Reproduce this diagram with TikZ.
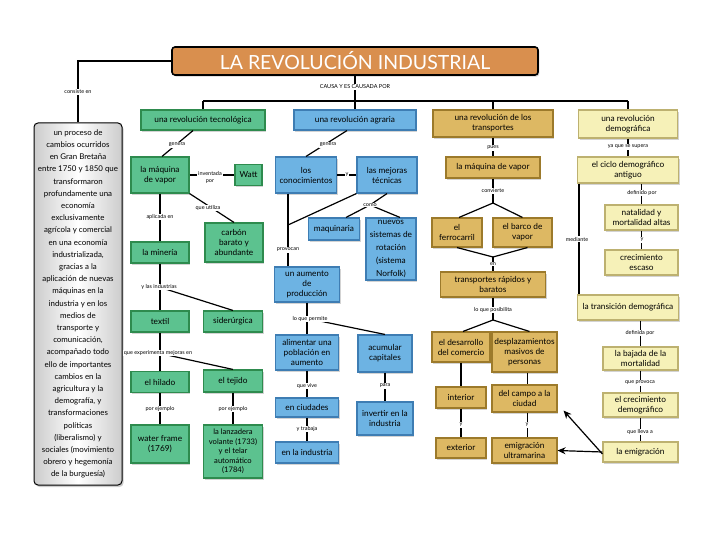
\documentclass[tikz,border=0pt]{standalone}
\usepackage{fontspec}
\setmainfont{Lato}
\usetikzlibrary{shadows,arrows.meta}
\definecolor{titlefill}{HTML}{D98F4E}
\definecolor{gfill}{HTML}{5CC28F}
\definecolor{gdraw}{HTML}{2E8B4E}
\definecolor{bfill}{HTML}{6DB3E3}
\definecolor{bdraw}{HTML}{3E7DB3}
\definecolor{ofill}{HTML}{DDB863}
\definecolor{odraw}{HTML}{9C7A2B}
\definecolor{yfill}{HTML}{F6F1B8}
\definecolor{ydraw}{HTML}{BDB170}
\begin{document}
\begin{tikzpicture}[x=1pt,y=-1pt,
  sz/.style 2 args={minimum width=#1pt, minimum height=#2pt},
  box/.style={draw, line width=1.1pt, align=center, inner sep=0.5pt,
    font=\fontsize{8.3}{10}\selectfont,
    drop shadow={shadow xshift=1.3pt, shadow yshift=-1.6pt, opacity=0.35}},
  gbox/.style={box, fill=gfill, draw=gdraw},
  bbox/.style={box, fill=bfill, draw=bdraw},
  obox/.style={box, fill=ofill, draw=odraw},
  ybox/.style={box, fill=yfill, draw=ydraw},
  titlebox/.style={draw=black, line width=1.6pt, fill=titlefill, rounded corners=3pt,
    text=white, font=\fontsize{19.5}{19.5}\selectfont,
    drop shadow={shadow xshift=1.3pt, shadow yshift=-1.6pt, opacity=0.35}},
  graybox/.style={draw=black, line width=1pt, rounded corners=4pt, align=center,
    left color=gray!40, right color=gray!40, middle color=white,
    font=\fontsize{7.9}{12.2}\selectfont, inner sep=0pt,
    drop shadow={shadow xshift=1.5pt, shadow yshift=-2pt, opacity=0.4}},
  lab/.style={fill=white, inner sep=0.8pt, align=center, font=\fontsize{5.5}{6}\selectfont},
  conn/.style={line width=1.2pt, black},
  arr/.style={conn, -{Stealth[length=8pt,width=7pt]}}
]
\useasboundingbox (0,0) rectangle (720,540);

% ---------- title and root
\node[titlebox, sz={366}{28}] (title) at (355,61) {LA REVOLUCIÓN INDUSTRIAL};
\node[graybox, sz={88}{362}] (proc) at (78,304) {un proceso de\\cambios ocurridos\\en Gran Bretaña\\entre 1750 y 1850 que\\transformaron\\profundamente una\\economía\\exclusivamente\\agrícola y comercial\\en una economía\\industrializada,\\gracias a la\\aplicación de nuevas\\máquinas en la\\industria y en los\\medios de\\transporte y\\comunicación,\\acompañado todo\\ello de importantes\\cambios en la\\agricultura y la\\demografía, y\\transformaciones\\políticas\\(liberalismo) y\\sociales (movimiento\\obrero y hegemonía\\de la burguesía)};

% ---------- green column
\node[gbox, sz={124}{20}] (tec) at (203,120) {una revolución tecnológica};
\node[gbox, sz={58}{36}] (maq) at (160,175) {la máquina\\de vapor};
\node[gbox, sz={27}{21}] (watt) at (248.5,175) {Watt};
\node[gbox, sz={58}{39}] (carbon) at (234,242.5) {carbón\\barato y\\abundante};
\node[gbox, sz={58}{21}] (mineria) at (160,252.5) {la minería};
\node[gbox, sz={58}{21}] (textil) at (160,321.5) {textil};
\node[gbox, sz={59}{21}] (sider) at (233,321.5) {siderúrgica};
\node[gbox, sz={58}{21}] (hilado) at (160,382) {el hilado};
\node[gbox, sz={59}{22}] (tejido) at (233,381) {el tejido};
\node[gbox, sz={58}{38}] (water) at (160,444) {water frame\\(1769)};
\node[gbox, sz={59}{53}, font=\fontsize{7.6}{9.6}\selectfont] (lanz) at (233,451.5) {la lanzadera\\volante (1733)\\y el telar\\automático\\(1784)};

% ---------- blue column
\node[bbox, sz={122}{20}] (agr) at (355,120) {una revolución agraria};
\node[bbox, sz={61}{36}] (conoc) at (306,175) {los\\conocimientos};
\node[bbox, sz={60}{36}] (mejoras) at (387,175) {las mejoras\\técnicas};
\node[bbox, sz={51}{22}] (maqn) at (334,229) {maquinaria};
\node[bbox, sz={50}{62}, font=\fontsize{8.3}{13}\selectfont] (nuevos) at (391,249) {nuevos\\sistemas de\\rotación\\(sistema\\Norfolk)};
\node[bbox, sz={65}{35}] (aumento) at (307,284.5) {un aumento\\de\\producción};
\node[bbox, sz={63}{35}] (aliment) at (307,352.5) {alimentar una\\población en\\aumento};
\node[bbox, sz={54}{37}] (acum) at (385,353.5) {acumular\\capitales};
\node[bbox, sz={63}{19}] (ciudades) at (307,407.5) {en ciudades};
\node[bbox, sz={63}{21}] (industria) at (307,452.5) {en la industria};
\node[bbox, sz={56}{33}] (invertir) at (385,418.5) {invertir en la\\industria};

% ---------- gold column
\node[obox, sz={120}{27}] (trans) at (493,123.5) {una revolución de los\\transportes};
\node[obox, sz={94}{21}] (maqv) at (493,167.5) {la máquina de vapor};
\node[obox, sz={50}{29}] (ferro) at (457,232.5) {el\\ferrocarril};
\node[obox, sz={59}{29}] (barco) at (522.5,232.5) {el barco de\\vapor};
\node[obox, sz={105}{25}] (rapidos) at (493,284.5) {transportes rápidos y\\baratos};
\node[obox, sz={58}{30}] (desarr) at (461,347) {el desarrollo\\del comercio};
\node[obox, sz={65}{40}] (desplaz) at (524.5,352) {desplazamientos\\masivos de\\personas};
\node[obox, sz={50}{21}] (interior) at (461,397.5) {interior};
\node[obox, sz={65}{27}] (campo) at (524.5,398.5) {del campo a la\\ciudad};
\node[obox, sz={50}{20}] (exterior) at (461,448) {exterior};
\node[obox, sz={65}{25}] (emig) at (524.5,450.5) {emigración\\ultramarina};

% ---------- yellow column
\node[ybox, sz={99}{28}] (demo) at (628,124) {una revolución\\demográfica};
\node[ybox, sz={101}{26}] (ciclo) at (628,170) {el ciclo demográfico\\antiguo};
\node[ybox, sz={73}{25}] (natal) at (641.5,217.5) {natalidad y\\mortalidad altas};
\node[ybox, sz={73}{25}] (crec) at (641.5,262.5) {crecimiento\\escaso};
\node[ybox, sz={101}{25}] (transdemo) at (628,307.5) {la transición demográfica};
\node[ybox, sz={75}{23}] (bajada) at (640.5,358.5) {la bajada de la\\mortalidad};
\node[ybox, sz={75}{24}] (crecdem) at (640.5,405) {el crecimiento\\demográfico};
\node[ybox, sz={75}{20}] (emigr) at (640.5,452) {la emigración};

% ---------- coordinates (label positions and junctions)
\coordinate (cConsiste) at (78,92);
\coordinate (cCausa) at (355,87);
\coordinate (barL) at (203,101);
\coordinate (barR) at (628,101);
\coordinate (cGenera1) at (177,145);
\coordinate (cInventada) at (210,177);
\coordinate (cUtiliza) at (208,208);
\coordinate (cAplicada) at (160,217);
\coordinate (cLasInd) at (159,287);
\coordinate (cMejorasEn) at (158,353);
\coordinate (cEj1) at (160,409);
\coordinate (cEj2) at (233,409);
\coordinate (cGenera2) at (328,145);
\coordinate (cY1) at (347,175);
\coordinate (jA) at (288,225);
\coordinate (cProvocan) at (288,250);
\coordinate (cComo) at (370,205);
\coordinate (cPermite) at (310,319);
\coordinate (cVive) at (307,386);
\coordinate (cTrabaja) at (307,429);
\coordinate (cPara) at (385,386);
\coordinate (cPues) at (493,148);
\coordinate (cConvierte) at (493,191);
\coordinate (jConv) at (493,203);
\coordinate (jEn) at (493,257);
\coordinate (cEn) at (493,264);
\coordinate (cPosibilita) at (493,310);
\coordinate (jPos) at (493,320);
\coordinate (cY2) at (461,425);
\coordinate (cY3) at (527,425);
\coordinate (cSupera) at (628,147);
\coordinate (cDefinido) at (642,193);
\coordinate (cY4) at (642,240);
\coordinate (cMediante) at (577,239);
\coordinate (cDefinida) at (640,333);
\coordinate (cProvoca) at (640,383);
\coordinate (cLleva) at (640,432);

% ---------- connectors
\draw[conn] (title.west) -| (proc.north);
\draw[conn] (title.south) -- (agr.north);
\draw[conn] (barL) -- (barR);
\draw[conn] (barL) -- (tec.north);
\draw[conn] (trans.north |- barL) -- (trans.north);
\draw[conn] (barR) -- (demo.north);

% green
\draw[conn] ([xshift=-10pt]tec.south) -- ([xshift=2pt]maq.north);
\draw[conn] (maq) -- (watt);
\draw[conn] (maq.south east) -- (carbon.north);
\draw[conn] (maq) -- (mineria);
\draw[conn] (mineria) -- (textil);
\draw[conn] (cLasInd) -- (sider.north);
\draw[conn] (textil) -- (hilado);
\draw[conn] (cMejorasEn) -- (tejido.north);
\draw[conn] (hilado) -- (water);
\draw[conn] (tejido) -- (lanz);

% blue
\draw[conn] ([xshift=-8pt]agr.south) -- (conoc.north);
\draw[conn] (conoc) -- (mejoras);
\draw[conn] ([xshift=-18pt]conoc.south) -- ([xshift=-19pt]aumento.north);
\draw[conn] (mejoras.south west) -- (jA);
\draw[conn] (mejoras.south) -- (cComo);
\draw[conn] (cComo) -- ([xshift=12pt]maqn.north);
\draw[conn] (cComo) -- ([xshift=9pt]nuevos.north);
\draw[conn] (aumento) -- (aliment);
\draw[conn] (cPermite) -- (acum.north);
\draw[conn] (aliment) -- (ciudades);
\draw[conn] (ciudades) -- (industria);
\draw[conn] (acum) -- (invertir);

% gold
\draw[conn] (trans) -- (maqv);
\draw[conn] (maqv) -- (jConv);
\draw[conn] (jConv) -- ([xshift=2pt]ferro.north);
\draw[conn] (jConv) -- (barco.north);
\draw[conn] (ferro.south) -- (jEn);
\draw[conn] ([xshift=5pt]barco.south) -- (jEn);
\draw[conn] (jEn) -- (rapidos.north);
\draw[conn] (rapidos) -- (jPos);
\draw[conn] (jPos) -- ([xshift=2pt]desarr.north);
\draw[conn] (jPos) -- ([xshift=5pt]desplaz.north);
\draw[conn] (desarr) -- (interior);
\draw[conn] (interior) -- (exterior);
\draw[conn] ([xshift=3pt]desplaz.south) -- ([xshift=3pt]campo.north);
\draw[conn] ([xshift=3pt]campo.south) -- ([xshift=3pt]emig.north);
\draw[arr] ([yshift=-2pt]emigr.west) -- ([xshift=6pt,yshift=2pt]campo.south east);
\draw[arr] (emigr.west) -- (emig.east);

% yellow
\draw[conn] (demo) -- (ciclo);
\draw[conn] (natal.north |- ciclo.south) -- (natal.north);
\draw[conn] (natal) -- (crec);
\draw[conn] ([xshift=2pt]ciclo.south west) -- ([xshift=2pt]transdemo.north west);
\draw[conn] (bajada.north |- transdemo.south) -- (bajada.north);
\draw[conn] (bajada) -- (crecdem);
\draw[conn] (crecdem) -- (emigr);

% ---------- labels
\node[lab] (lConsiste) at (cConsiste) {consiste en};
\node[lab] (lCausa) at (cCausa) {CAUSA Y ES CAUSADA POR};
\node[lab] (lGenera1) at (cGenera1) {genera};
\node[lab] (lInventada) at (cInventada) {inventada\\[1pt]por};
\node[lab] (lUtiliza) at (cUtiliza) {que utiliza};
\node[lab] (lAplicada) at (cAplicada) {aplicada en};
\node[lab] (lLasInd) at (cLasInd) {y las industrias};
\node[lab] (lMejorasEn) at (cMejorasEn) {que experimenta mejoras en};
\node[lab] (lEj1) at (cEj1) {por ejemplo};
\node[lab] (lEj2) at (cEj2) {por ejemplo};
\node[lab] (lGenera2) at (cGenera2) {genera};
\node[lab] (lY1) at (cY1) {y};
\node[lab] (lProvocan) at (cProvocan) {provocan};
\node[lab] (lComo) at (cComo) {como};
\node[lab] (lPermite) at (cPermite) {lo que permite};
\node[lab] (lVive) at (cVive) {que vive};
\node[lab] (lTrabaja) at (cTrabaja) {y trabaja};
\node[lab] (lPara) at (cPara) {para};
\node[lab] (lPues) at (cPues) {pues};
\node[lab] (lConvierte) at (cConvierte) {convierte};
\node[lab] (lEn) at (cEn) {en};
\node[lab] (lPosibilita) at (cPosibilita) {lo que posibilita};
\node[lab] (lY2) at (cY2) {y};
\node[lab] (lY3) at (cY3) {y};
\node[lab] (lSupera) at (cSupera) {ya que se supera};
\node[lab] (lDefinido) at (cDefinido) {definido por};
\node[lab] (lY4) at (cY4) {y};
\node[lab] (lMediante) at (cMediante) {mediante};
\node[lab] (lDefinida) at (cDefinida) {definida por};
\node[lab] (lProvoca) at (cProvoca) {que provoca};
\node[lab] (lLleva) at (cLleva) {que lleva a};
\end{tikzpicture}
\end{document}
